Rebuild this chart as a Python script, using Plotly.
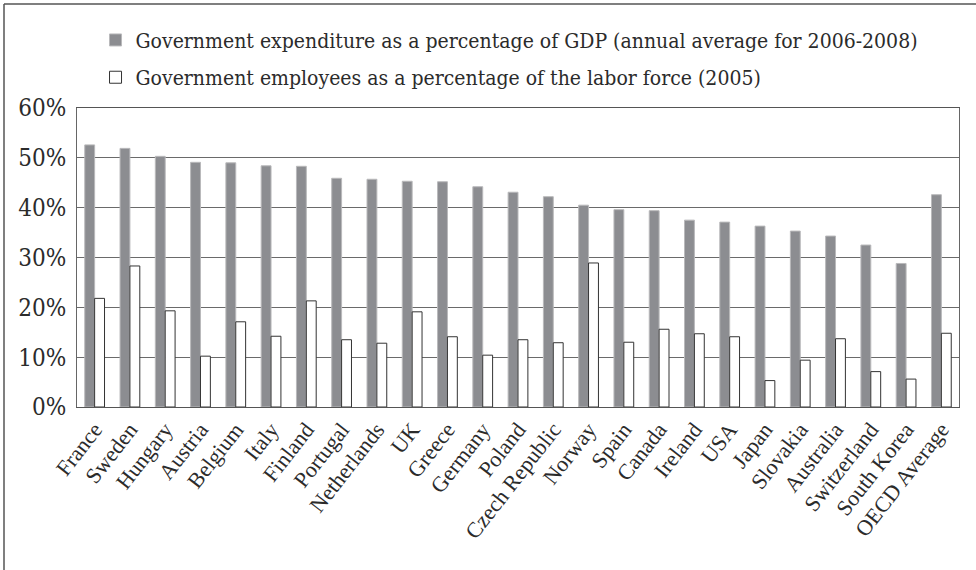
import plotly.graph_objects as go

countries = ["France", "Sweden", "Hungary", "Austria", "Belgium", "Italy", "Finland",
             "Portugal", "Netherlands", "UK", "Greece", "Germany", "Poland",
             "Czech Republic", "Norway", "Spain", "Canada", "Ireland", "USA", "Japan",
             "Slovakia", "Australia", "Switzerland", "South Korea", "OECD Average"]

expenditure = [52.6, 51.9, 50.3, 49.1, 49.0, 48.4, 48.3, 45.9, 45.7, 45.3, 45.2, 44.2,
               43.1, 42.2, 40.5, 39.6, 39.4, 37.5, 37.1, 36.3, 35.3, 34.3, 32.5, 28.8, 42.6]
employees = [21.8, 28.3, 19.3, 10.2, 17.1, 14.2, 21.3, 13.5, 12.8, 19.1, 14.1, 10.4,
             13.5, 12.9, 28.9, 13.0, 15.6, 14.7, 14.1, 5.3, 9.4, 13.7, 7.1, 5.6, 14.8]

name_exp = "Government expenditure as a percentage of GDP (annual average for 2006-2008)"
name_emp = "Government employees as a percentage of the labor force (2005)"
y_ticks = [0, 10, 20, 30, 40, 50, 60]
y_labels = ["0%", "10%", "20%", "30%", "40%", "50%", "60%"]

FONT = "Liberation Serif"
LEG_FONT = "DejaVu Serif Condensed"
TXT = "#2b2b2b"

fig = go.Figure()
fig.add_trace(go.Bar(x=countries, y=expenditure, name=name_exp, legendgroup="exp",
                     marker=dict(color="#8c8d91", line=dict(color="#b9b9bb", width=1))))
fig.add_trace(go.Bar(x=countries, y=employees, name=name_emp, legendgroup="emp",
                     marker=dict(color="#ffffff", line=dict(color="#333333", width=1))))

fig.update_layout(
    width=976, height=570,
    margin=dict(l=77, r=17, t=108, b=163),
    paper_bgcolor="white", plot_bgcolor="white",
    barmode="group", bargap=0.44, bargroupgap=0,
    font=dict(family=FONT, color=TXT),
    legend=dict(x=0.021, y=1.295, xanchor="left", yanchor="top",
                font=dict(family=LEG_FONT, size=21, color=TXT),
                bgcolor="rgba(0,0,0,0)", tracegroupgap=7, itemwidth=30),
    xaxis=dict(tickangle=-52, tickfont=dict(family=FONT, size=22, color=TXT),
               showline=True, linecolor="#555555", linewidth=1, mirror=True,
               showgrid=False, ticks=""),
    yaxis=dict(range=[0, 60], tickvals=y_ticks, ticktext=y_labels,
               tickfont=dict(family=LEG_FONT, size=24, color=TXT),
               showline=True, linecolor="#666666", linewidth=1, mirror=True,
               showgrid=True, gridcolor="#6a6a6a", gridwidth=1,
               ticks="", ticklabelstandoff=5, zeroline=False),
)

# outer frame (left and top edges visible)
fig.add_shape(type="line", xref="paper", yref="paper",
              x0=(4 - 77) / 882, x1=(4 - 77) / 882, y0=(407 - 580) / 299, y1=(407 - 4) / 299,
              line=dict(color="#555555", width=1.5))
fig.add_shape(type="line", xref="paper", yref="paper",
              x0=(4 - 77) / 882, x1=(990 - 77) / 882, y0=(407 - 4) / 299, y1=(407 - 4) / 299,
              line=dict(color="#555555", width=1.5))

fig.write_html("out.html")
